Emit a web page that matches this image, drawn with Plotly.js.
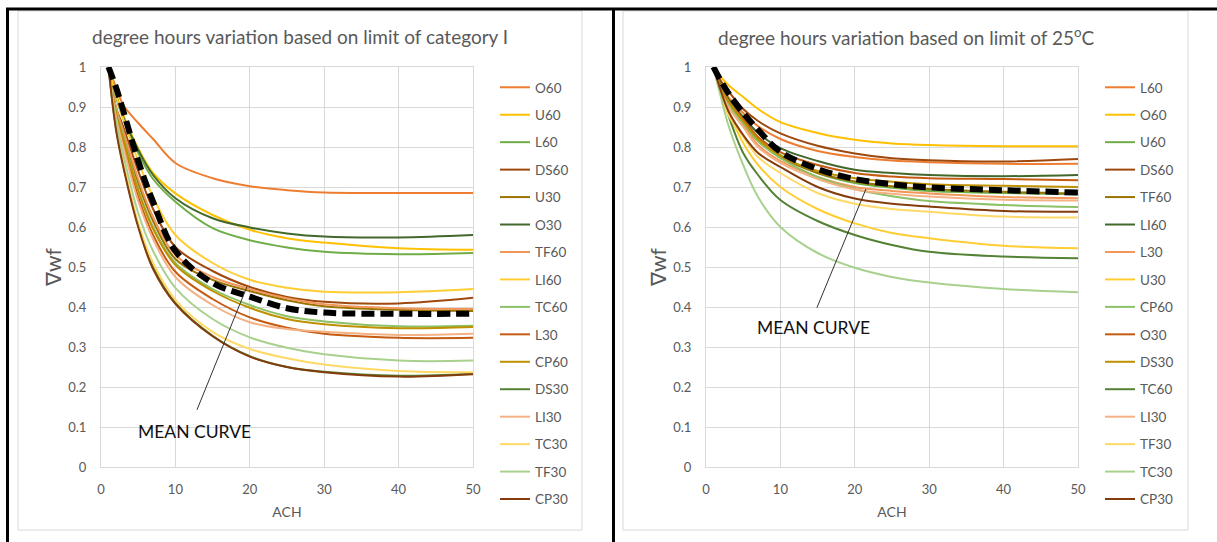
<!DOCTYPE html>
<html>
<head>
<meta charset="utf-8">
<script src="https://cdn.plot.ly/plotly-3.0.1.min.js"></script>
<style>html,body{margin:0;padding:0;background:#fff;}#chart{width:1217px;height:542px;}</style>
</head>
<body>
<div id="chart"></div>
<script>
// ACH values (x)
const ach = [1, 2, 3, 5, 7, 10, 15, 20, 25, 30, 40, 50];

// Left chart: limit of category I
const leftNames = ['O60','U60','L60','DS60','U30','O30','TF60','LI60','TC60','L30','CP60','DS30','LI30','TC30','TF30','CP30'];
const catI_O60  = [1, 0.95, 0.905, 0.86, 0.82, 0.76, 0.722, 0.702, 0.692, 0.686, 0.685, 0.685];
const catI_U60  = [1, 0.935, 0.88, 0.797, 0.735, 0.684, 0.63, 0.593, 0.572, 0.561, 0.547, 0.543];
const catI_L60  = [1, 0.925, 0.87, 0.785, 0.72, 0.663, 0.597, 0.567, 0.549, 0.538, 0.532, 0.535];
const catI_DS60 = [1, 0.9, 0.85, 0.74, 0.645, 0.55, 0.49, 0.45, 0.425, 0.413, 0.409, 0.423];
const catI_U30  = [1, 0.895, 0.835, 0.71, 0.615, 0.52, 0.468, 0.44, 0.417, 0.402, 0.393, 0.39];
const catI_O30  = [1, 0.93, 0.875, 0.793, 0.73, 0.672, 0.622, 0.599, 0.584, 0.576, 0.574, 0.58];
const catI_TF60 = [1, 0.9, 0.84, 0.72, 0.625, 0.53, 0.475, 0.445, 0.422, 0.407, 0.397, 0.395];
const catI_LI60 = [1, 0.93, 0.87, 0.765, 0.675, 0.58, 0.51, 0.468, 0.448, 0.438, 0.437, 0.445];
const catI_TC60 = [1, 0.89, 0.825, 0.695, 0.6, 0.51, 0.445, 0.405, 0.377, 0.364, 0.352, 0.353];
const catI_L30  = [1, 0.88, 0.81, 0.675, 0.58, 0.488, 0.42, 0.374, 0.348, 0.333, 0.323, 0.323];
const catI_CP60 = [1, 0.885, 0.82, 0.69, 0.595, 0.505, 0.44, 0.398, 0.37, 0.357, 0.347, 0.35];
const catI_DS30 = [1, 0.85, 0.755, 0.605, 0.5, 0.41, 0.328, 0.277, 0.25, 0.238, 0.228, 0.233];
const catI_LI30 = [1, 0.875, 0.8, 0.665, 0.57, 0.475, 0.405, 0.362, 0.345, 0.338, 0.33, 0.333];
const catI_TC30 = [1, 0.855, 0.76, 0.61, 0.51, 0.418, 0.338, 0.295, 0.272, 0.256, 0.24, 0.237];
const catI_TF30 = [1, 0.865, 0.78, 0.635, 0.54, 0.448, 0.37, 0.324, 0.298, 0.282, 0.266, 0.266];
const catI_CP30 = [1, 0.845, 0.75, 0.6, 0.495, 0.408, 0.327, 0.276, 0.25, 0.237, 0.226, 0.232];
const catI_MEAN = [1, 0.95, 0.89, 0.765, 0.663, 0.54, 0.46, 0.426, 0.397, 0.386, 0.383, 0.383];

// Right chart: limit of 25°C
const rightNames = ['L60','O60','U60','DS60','TF60','LI60','L30','U30','CP60','O30','DS30','TC60','LI30','TF30','TC30','CP30'];
const t25_L60  = [1, 0.955, 0.925, 0.885, 0.852, 0.82, 0.79, 0.775, 0.766, 0.762, 0.758, 0.758];
const t25_O60  = [1, 0.975, 0.955, 0.925, 0.895, 0.862, 0.835, 0.818, 0.809, 0.805, 0.802, 0.802];
const t25_U60  = [1, 0.95, 0.915, 0.865, 0.82, 0.78, 0.735, 0.71, 0.698, 0.69, 0.685, 0.682];
const t25_DS60 = [1, 0.965, 0.94, 0.895, 0.865, 0.834, 0.803, 0.784, 0.772, 0.767, 0.764, 0.77];
const t25_TF60 = [1, 0.95, 0.915, 0.86, 0.815, 0.775, 0.735, 0.714, 0.702, 0.695, 0.688, 0.684];
const t25_LI60 = [1, 0.955, 0.92, 0.875, 0.835, 0.797, 0.765, 0.743, 0.735, 0.73, 0.727, 0.73];
const t25_L30  = [1, 0.945, 0.905, 0.855, 0.805, 0.765, 0.725, 0.7, 0.69, 0.684, 0.675, 0.672];
const t25_U30  = [1, 0.945, 0.89, 0.81, 0.755, 0.7, 0.645, 0.609, 0.585, 0.572, 0.553, 0.547];
const t25_CP60 = [1, 0.945, 0.905, 0.86, 0.815, 0.772, 0.725, 0.695, 0.677, 0.665, 0.655, 0.65];
const t25_O30  = [1, 0.95, 0.915, 0.87, 0.825, 0.787, 0.755, 0.735, 0.726, 0.722, 0.72, 0.717];
const t25_DS30 = [1, 0.95, 0.915, 0.865, 0.82, 0.778, 0.74, 0.722, 0.713, 0.707, 0.703, 0.7];
const t25_TC60 = [1, 0.94, 0.88, 0.785, 0.73, 0.6675, 0.615, 0.58, 0.555, 0.538, 0.526, 0.522];
const t25_LI30 = [1, 0.94, 0.9, 0.85, 0.8, 0.76, 0.72, 0.694, 0.683, 0.676, 0.668, 0.666];
const t25_TF30 = [1, 0.93, 0.88, 0.825, 0.775, 0.735, 0.685, 0.658, 0.645, 0.638, 0.626, 0.624];
const t25_TC30 = [1, 0.925, 0.855, 0.755, 0.675, 0.6, 0.535, 0.498, 0.475, 0.461, 0.445, 0.437];
const t25_CP30 = [1, 0.94, 0.89, 0.83, 0.785, 0.75, 0.7, 0.671, 0.658, 0.651, 0.64, 0.638];
const t25_MEAN = [1, 0.965, 0.935, 0.885, 0.843, 0.788, 0.745, 0.72, 0.707, 0.699, 0.692, 0.686];

const leftSeries = [catI_O60, catI_U60, catI_L60, catI_DS60, catI_U30, catI_O30, catI_TF60, catI_LI60,
  catI_TC60, catI_L30, catI_CP60, catI_DS30, catI_LI30, catI_TC30, catI_TF30, catI_CP30];
const rightSeries = [t25_L60, t25_O60, t25_U60, t25_DS60, t25_TF60, t25_LI60, t25_L30, t25_U30,
  t25_CP60, t25_O30, t25_DS30, t25_TC60, t25_LI30, t25_TF30, t25_TC30, t25_CP30];

const palette = ['#ED7D31','#FFC000','#70AD47','#9E480E','#997300','#43682B','#F1975A','#FFCD33',
  '#8CC168','#C55A11','#BF9000','#548235','#F4B183','#FFD966','#A9D18E','#843C0C'];

const FONT = 'Lato, "Open Sans", sans-serif';
const GRAY = '#595959';
const W = 1217, H = 542;
const px = v => v / W;
const py = v => 1 - v / H;

const traces = [];
leftSeries.forEach((vals, i) => {
  traces.push({x: ach, y: vals, type: 'scatter', mode: 'lines', name: leftNames[i],
    line: {color: palette[i], width: 2, shape: 'spline', smoothing: 1},
    xaxis: 'x', yaxis: 'y', legend: 'legend', legendgroup: 'L' + i});
});
traces.push({x: ach, y: catI_MEAN, type: 'scatter', mode: 'lines', name: 'MEAN CURVE', showlegend: false,
  line: {color: '#000', width: 6, dash: '13px,6px', shape: 'spline', smoothing: 1}, xaxis: 'x', yaxis: 'y'});
rightSeries.forEach((vals, i) => {
  traces.push({x: ach, y: vals, type: 'scatter', mode: 'lines', name: rightNames[i],
    line: {color: palette[i], width: 2, shape: 'spline', smoothing: 1},
    xaxis: 'x2', yaxis: 'y2', legend: 'legend2', legendgroup: 'R' + i});
});
traces.push({x: ach, y: t25_MEAN, type: 'scatter', mode: 'lines', name: 'MEAN CURVE', showlegend: false,
  line: {color: '#000', width: 6, dash: '13px,6px', shape: 'spline', smoothing: 1}, xaxis: 'x2', yaxis: 'y2'});

function xax(domain, anchor) {
  return {domain: domain, anchor: anchor, range: [0, 50], dtick: 10, tick0: 0,
    showgrid: true, gridcolor: '#d9d9d9', gridwidth: 1, zeroline: false,
    showline: true, mirror: true, linecolor: '#d9d9d9', linewidth: 1,
    ticks: '', ticklabelstandoff: 10,
    tickfont: {family: FONT, size: 13, color: GRAY},
    title: {text: 'ACH', font: {family: FONT, size: 14, color: GRAY}, standoff: 11}};
}
function yax(domain, anchor) {
  return {domain: domain, anchor: anchor, range: [0, 1], dtick: 0.1, tick0: 0,
    showgrid: true, gridcolor: '#d9d9d9', gridwidth: 1, zeroline: false,
    showline: true, mirror: true, linecolor: '#d9d9d9', linewidth: 1,
    ticks: '', ticklabelstandoff: 11,
    tickfont: {family: FONT, size: 13, color: GRAY},
    title: {text: '∇wf', font: {family: FONT, size: 21, color: GRAY}, standoff: 0}};
}
const yDom = [py(467), py(67)];

function legendCfg(xLeft) {
  return {x: px(xLeft), xanchor: 'left', y: py(72), yanchor: 'top', bgcolor: 'rgba(0,0,0,0)',
    font: {family: FONT, size: 13.5, color: GRAY}, tracegroupgap: 6.9, itemwidth: 30, traceorder: 'grouped'};
}

const layout = {
  width: W, height: H, margin: {l: 0, r: 0, t: 0, b: 0},
  paper_bgcolor: '#fff', plot_bgcolor: '#fff', showlegend: true,
  xaxis: xax([px(101), px(473)], 'y'),
  yaxis: yax(yDom, 'x'),
  xaxis2: xax([px(706), px(1078)], 'y2'),
  yaxis2: yax(yDom, 'x2'),
  legend: legendCfg(495),
  legend2: legendCfg(1100),
  annotations: [
    {text: 'degree hours variation based on limit of category I', xref: 'paper', yref: 'paper',
      x: px(300), y: py(37), xanchor: 'center', yanchor: 'middle', showarrow: false,
      font: {family: FONT, size: 19, color: GRAY}},
    {text: 'degree hours variation based on limit of 25<sup>o</sup>C', xref: 'paper', yref: 'paper',
      x: px(906), y: py(37), xanchor: 'center', yanchor: 'middle', showarrow: false,
      font: {family: FONT, size: 19, color: GRAY}},
    {text: 'MEAN CURVE', xref: 'x', yref: 'y', x: 12.5, y: 0.09, xanchor: 'center', yanchor: 'middle', showarrow: false,
      font: {family: FONT, size: 17.5, color: '#111'}},
    {text: 'MEAN CURVE', xref: 'x2', yref: 'y2', x: 14.4, y: 0.348, xanchor: 'center', yanchor: 'middle', showarrow: false,
      font: {family: FONT, size: 17.5, color: '#111'}}
  ],
  shapes: [
    {type: 'line', xref: 'x', yref: 'y', x0: 12.9, y0: 0.143, x1: 19.6, y1: 0.45, line: {color: '#333', width: 1}},
    {type: 'line', xref: 'x2', yref: 'y2', x0: 14.9, y0: 0.398, x1: 21.5, y1: 0.695, line: {color: '#333', width: 1}},
    {type: 'rect', xref: 'paper', yref: 'paper', x0: px(18), x1: px(582), y0: py(530), y1: py(11), line: {color: '#d9d9d9', width: 1}, layer: 'below'},
    {type: 'rect', xref: 'paper', yref: 'paper', x0: px(623), x1: px(1188), y0: py(530), y1: py(11), line: {color: '#d9d9d9', width: 1}, layer: 'below'},
    {type: 'line', xref: 'paper', yref: 'paper', x0: px(6), x1: 1, y0: py(9), y1: py(9), line: {color: '#000', width: 3}},
    {type: 'line', xref: 'paper', yref: 'paper', x0: px(7.5), x1: px(7.5), y0: 0, y1: py(8), line: {color: '#000', width: 3}},
    {type: 'line', xref: 'paper', yref: 'paper', x0: px(613.5), x1: px(613.5), y0: 0, y1: py(8), line: {color: '#000', width: 3}}
  ]
};

Plotly.newPlot('chart', traces, layout, {staticPlot: true, displayModeBar: false});
</script>
</body>
</html>
